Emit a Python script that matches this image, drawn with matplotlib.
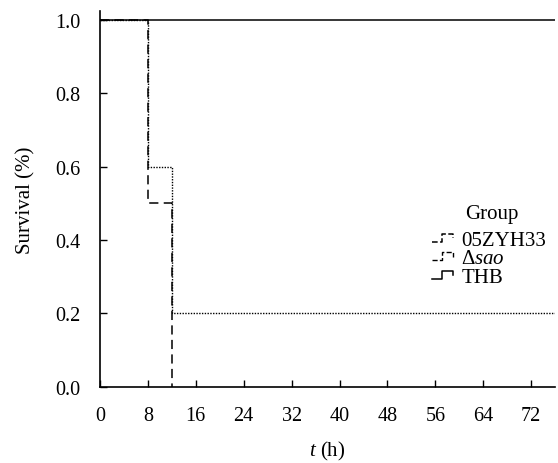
import matplotlib
matplotlib.use("Agg")
import matplotlib.pyplot as plt
from matplotlib.legend_handler import HandlerLine2D
from matplotlib.lines import Line2D

plt.rcParams['font.family'] = ['Liberation Serif', 'DejaVu Serif']
plt.rcParams['mathtext.fontset'] = 'custom'
plt.rcParams['mathtext.rm'] = 'Liberation Serif'
plt.rcParams['mathtext.it'] = 'Liberation Serif:italic'

# Data (step survival curves)
t_wt = [0, 8, 8, 12, 12]
s_wt = [1.0, 1.0, 0.5, 0.5, 0.0]
t_sao = [0, 8, 8, 12, 12, 76]
s_sao = [1.0, 1.0, 0.6, 0.6, 0.2, 0.2]
t_thb = [0, 76]
s_thb = [1.0, 1.0]
labels = ['05ZYH33', r'$\Delta$$\mathit{sao}$', 'THB']
xticks = [0, 8, 16, 24, 32, 40, 48, 56, 64, 72]
yticks = [0.0, 0.2, 0.4, 0.6, 0.8, 1.0]

fig = plt.figure(figsize=(5.58, 4.64), dpi=100)
ax = fig.add_axes([0.179, 0.164, 0.816, 0.81])

l1, = ax.plot(t_wt, s_wt, color='black', lw=1.1, ls=(0, (6, 3.5)), label=labels[0])
l2, = ax.plot(t_sao, s_sao, color='black', lw=1.0, ls=(0, (1, 1)), label=labels[1])
l3, = ax.plot(t_thb, s_thb, color='black', lw=1.1, ls='-', label=labels[2])

ax.set_xlim(0, 76)
ax.set_ylim(0, 1.024)
ax.set_xticks(xticks)
ax.set_yticks(yticks)
ax.set_yticklabels([f"{v:.1f}" for v in yticks])
ax.tick_params(direction='in', length=5, width=1, labelsize=14.5)
ax.tick_params(axis='x', pad=14)
ax.tick_params(axis='y', pad=14)
ax.spines['top'].set_visible(False)
ax.spines['right'].set_visible(False)
for s in ['left', 'bottom']:
    ax.spines[s].set_linewidth(1.2)

ax.set_xlabel(r'$\mathit{t}$ (h)', fontsize=15, labelpad=10)
ax.set_ylabel('Survival (%)', fontsize=15, labelpad=14)


class StepHandler(HandlerLine2D):
    def create_artists(self, legend, orig_handle, xdescent, ydescent,
                       width, height, fontsize, trans):
        x0 = -xdescent
        y0 = -ydescent
        h = height
        xs = [x0, x0 + width * 0.5, x0 + width * 0.5, x0 + width, x0 + width]
        ys = [y0 + h * 0.2, y0 + h * 0.2, y0 + h * 0.75, y0 + h * 0.75, y0 + h * 0.45]
        line = Line2D(xs, ys, color='black', lw=orig_handle.get_linewidth(),
                      linestyle=orig_handle.get_linestyle())
        line.set_transform(trans)
        return [line]


leg = fig.legend(handles=[l1, l2, l3], loc='upper left',
                 bbox_to_anchor=(432 / 558, 1 - 231 / 464),
                 frameon=False, fontsize=15,
                 handlelength=1.0, handletextpad=0.4,
                 labelspacing=-0.05, borderpad=0, borderaxespad=0,
                 handler_map={Line2D: StepHandler()})
fig.text(492 / 558, 1 - 214 / 464, 'Group', fontsize=15, ha='center', va='center')

fig.savefig('out.png', dpi=100)
